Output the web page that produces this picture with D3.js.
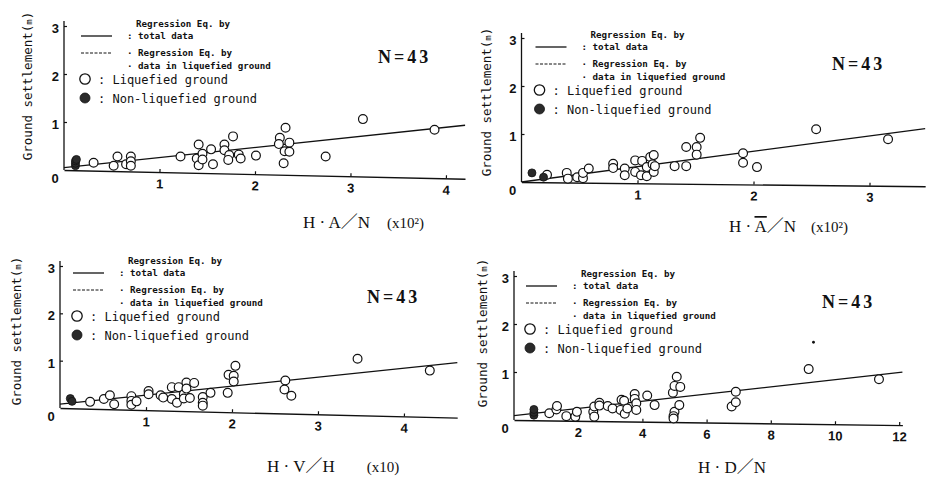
<!DOCTYPE html>
<html>
<head>
<meta charset="utf-8">
<script src="https://cdn.jsdelivr.net/npm/d3@7"></script>
<style>
  body { margin: 0; background: #fff; }
  svg { display: block; }
  text { fill: #111; }
</style>
</head>
<body>
<div id="chart"></div>
<script>
// Data ([x, settlement in m])
const liquefiedA = [[0.31,0.15],[0.52,0.09],[0.56,0.28],[0.65,0.12],[0.70,0.28],[0.70,0.18],[0.70,0.09],[1.22,0.28],[1.41,0.53],[1.39,0.24],[1.41,0.10],[1.45,0.34],[1.45,0.22],[1.54,0.43],[1.56,0.12],[1.68,0.53],[1.68,0.41],[1.77,0.70],[1.73,0.31],[1.72,0.21],[1.83,0.32],[1.85,0.24],[2.01,0.30],[2.26,0.67],[2.25,0.54],[2.32,0.88],[2.36,0.57],[2.31,0.39],[2.36,0.38],[2.30,0.14],[2.74,0.28],[3.13,1.06],[3.88,0.84]];
const nonLiquefiedA = [[0.12,0.09],[0.12,0.14],[0.12,0.19],[0.13,0.22]];

const liquefiedAbar = [[0.22,0.15],[0.39,0.19],[0.40,0.07],[0.48,0.10],[0.53,0.08],[0.53,0.19],[0.58,0.28],[0.79,0.38],[0.79,0.29],[0.89,0.28],[0.89,0.14],[0.98,0.45],[0.98,0.21],[1.04,0.44],[1.03,0.14],[1.08,0.31],[1.08,0.12],[1.11,0.52],[1.14,0.56],[1.13,0.37],[1.14,0.21],[1.15,0.33],[1.32,0.33],[1.42,0.73],[1.42,0.33],[1.51,0.73],[1.51,0.57],[1.54,0.92],[1.91,0.60],[1.91,0.40],[2.03,0.31],[2.54,1.10],[3.16,0.89]];
const nonLiquefiedAbar = [[0.09,0.19],[0.19,0.10]];

const liquefiedV = [[0.35,0.13],[0.51,0.19],[0.58,0.27],[0.63,0.08],[0.83,0.25],[0.83,0.15],[0.83,0.07],[0.89,0.14],[1.03,0.36],[1.03,0.29],[1.17,0.27],[1.20,0.22],[1.30,0.44],[1.30,0.19],[1.36,0.11],[1.38,0.44],[1.44,0.29],[1.44,0.20],[1.47,0.54],[1.47,0.41],[1.51,0.21],[1.56,0.53],[1.66,0.23],[1.66,0.11],[1.66,0.05],[1.75,0.32],[1.95,0.32],[1.96,0.70],[2.02,0.68],[2.02,0.56],[2.04,0.89],[2.62,0.58],[2.61,0.39],[2.69,0.26],[3.46,1.04],[4.30,0.79]];
const nonLiquefiedV = [[0.12,0.20],[0.14,0.14]];

const liquefiedD = [[1.10,0.14],[1.32,0.22],[1.34,0.29],[1.63,0.08],[1.91,0.07],[1.96,0.17],[2.47,0.17],[2.50,0.07],[2.50,0.28],[2.66,0.36],[2.66,0.30],[2.92,0.29],[3.07,0.24],[3.32,0.21],[3.35,0.42],[3.43,0.40],[3.45,0.13],[3.53,0.24],[3.76,0.54],[3.76,0.44],[3.81,0.35],[3.81,0.21],[4.15,0.51],[4.38,0.31],[4.95,0.57],[5.00,0.71],[5.07,0.90],[5.00,0.17],[4.97,0.08],[4.97,0.03],[5.18,0.69],[5.15,0.31],[6.78,0.28],[6.91,0.37],[6.91,0.59],[9.18,1.06],[11.37,0.85]];
const nonLiquefiedD = [[0.62,0.10],[0.62,0.16],[0.62,0.22]];
const specksD = [[9.33,1.62]];

// regression lines (intercept, slope) for the total data
const regIntercept = [0.05, 0.0, 0.08, 0.09];
const regSlope = [0.21, 0.32, 0.19, 0.075];

const xMaxes = [4.2, 3.48, 4.62, 12.1];
const xTicksA = [1, 2, 3, 4];
const xTicksAbar = [1, 2, 3];
const xTicksV = [1, 2, 3, 4];
const xTicksD = [2, 4, 6, 8, 10, 12];
const yTicks = [1, 2, 3];

const xLabels = [
  {main: ["H · A／N"], unit: "(x10²)"},
  {main: ["H · ", "A", "／N"], unit: "(x10²)"},
  {main: ["H · V／H"], unit: "(x10)"},
  {main: ["H · D／N"], unit: ""}
];
const nLabel = "N=43";

// layout of each scanned panel
const panels = [
  {liq: liquefiedA, non: nonLiquefiedA, specks: [], ticks: xTicksA, i: 0,
   ox: 64, oy: 170, xUnit: 95.5, y3: 26, tilt: 1.25,
   lx: 0, ly: 0, nx: 378, ny: 63, labX: 303, labY: 228, unitDx: 17, ylx: 32, yly: 86},
  {liq: liquefiedAbar, non: nonLiquefiedAbar, specks: [], ticks: xTicksAbar, i: 1,
   ox: 521.5, oy: 182, xUnit: 116, y3: 38, tilt: 0.6,
   lx: -3, ly: -1, nx: 832, ny: 70, labX: 729, labY: 232, unitDx: 15, ylx: 491, yly: 102},
  {liq: liquefiedV, non: nonLiquefiedV, specks: [], ticks: xTicksV, i: 2,
   ox: 60, oy: 408, xUnit: 86, y3: 266, tilt: 1.4,
   lx: -4, ly: -3, nx: 367, ny: 303, labX: 267, labY: 472, unitDx: 32, ylx: 21, yly: 331},
  {liq: liquefiedD, non: nonLiquefiedD, specks: specksD, ticks: xTicksD, i: 3,
   ox: 514, oy: 420, xUnit: 32.1, y3: 276, tilt: 0.75,
   lx: -5, ly: 0, nx: 822, ny: 308, labX: 698, labY: 473, unitDx: 15, ylx: 487, yly: 333}
];

const mono = "'DejaVu Sans Mono', 'Liberation Mono', monospace";
const serif = "'Liberation Serif', 'Noto Sans CJK JP', serif";
const ink = "#111";

const svg = d3.select("#chart").append("svg")
    .attr("width", 930)
    .attr("height", 482);

panels.forEach(drawPanel);

function drawPanel(p) {
    const g = svg.append("g");
    const xMax = xMaxes[p.i];
    const x = d3.scaleLinear().domain([0, xMax]).range([p.ox, p.ox + xMax * p.xUnit]);
    const y = d3.scaleLinear().domain([0, 3]).range([p.oy, p.y3]);

    // x axis (the scan is slightly tilted)
    const xAxis = g.append("g")
        .attr("transform", `rotate(${p.tilt},${p.ox},${p.oy}) translate(0,${p.oy})`)
        .call(d3.axisBottom(x).tickValues(p.ticks).tickSizeInner(-3).tickSizeOuter(0)
            .tickPadding(7).tickFormat(d3.format("d")));
    xAxis.select(".domain").attr("stroke", ink).attr("stroke-width", 1.3);
    xAxis.selectAll("line").attr("stroke", ink).attr("stroke-width", 1.2);
    xAxis.selectAll("text").attr("font-family", "'Liberation Sans', Arial, sans-serif")
        .attr("font-size", 13).attr("font-weight", "bold").attr("fill", ink);

    // y axis
    const yAxis = g.append("g")
        .attr("transform", `translate(${p.ox},0)`)
        .call(d3.axisLeft(y).tickValues(yTicks).tickSizeInner(-3).tickSizeOuter(0)
            .tickPadding(5).tickFormat(d3.format("d")));
    yAxis.select(".domain").remove();
    yAxis.selectAll("line").attr("stroke", ink).attr("stroke-width", 1.2);
    yAxis.selectAll("text").attr("font-family", "'Liberation Sans', Arial, sans-serif")
        .attr("font-size", 13).attr("font-weight", "bold").attr("fill", ink)
        .attr("dy", "0.5em");
    g.append("line")
        .attr("x1", x(0)).attr("x2", x(0))
        .attr("y1", y(0)).attr("y2", y(3) - 5)
        .attr("stroke", ink).attr("stroke-width", 1.3);
    g.append("text")
        .attr("x", x(0) - 9).attr("y", y(0) + 8)
        .attr("text-anchor", "middle").attr("dy", "0.35em")
        .attr("font-family", "'Liberation Sans', Arial, sans-serif")
        .attr("font-size", 13).attr("font-weight", "bold")
        .text("0");

    // regression line (total data)
    const a = regIntercept[p.i], b = regSlope[p.i];
    g.append("line")
        .attr("x1", x(0)).attr("y1", y(a))
        .attr("x2", x(xMax)).attr("y2", y(a + b * xMax))
        .attr("stroke", ink).attr("stroke-width", 1.3);

    // points
    g.selectAll("circle.liq")
        .data(p.liq)
        .enter().append("circle")
        .attr("class", "liq")
        .attr("cx", d => x(d[0]))
        .attr("cy", d => y(d[1]))
        .attr("r", 4.4)
        .attr("fill", "#fff")
        .attr("stroke", ink)
        .attr("stroke-width", 1.2);

    g.selectAll("circle.non")
        .data(p.non)
        .enter().append("circle")
        .attr("class", "non")
        .attr("cx", d => x(d[0]))
        .attr("cy", d => y(d[1]))
        .attr("r", 4)
        .attr("fill", "#2a2a2a")
        .attr("stroke", ink)
        .attr("stroke-width", 0.8);

    g.selectAll("circle.speck")
        .data(p.specks)
        .enter().append("circle")
        .attr("class", "speck")
        .attr("cx", d => x(d[0]))
        .attr("cy", d => y(d[1]))
        .attr("r", 1.4)
        .attr("fill", ink);

    // legend
    const lx = x(0) + p.lx, ly = y(3) + p.ly;
    const leg = g.append("g").attr("transform", `translate(${lx},${ly})`);
    leg.append("line").attr("x1", 17).attr("x2", 48).attr("y1", 10).attr("y2", 10)
        .attr("stroke", ink).attr("stroke-width", 1.3);
    leg.append("line").attr("x1", 17).attr("x2", 48).attr("y1", 27).attr("y2", 27)
        .attr("stroke", ink).attr("stroke-width", 1).attr("stroke-dasharray", "3,1.5");

    const small = [
        {t: "Regression Eq. by", x: 72, y: 1},
        {t: ": total data", x: 63, y: 13},
        {t: "· Regression Eq. by", x: 63, y: 30},
        {t: "· data in liquefied ground", x: 63, y: 43}
    ];
    leg.selectAll("text.small")
        .data(small)
        .enter().append("text")
        .attr("class", "small")
        .attr("x", d => d.x).attr("y", d => d.y)
        .attr("font-family", mono)
        .attr("font-size", 9.2)
        .attr("font-weight", "bold")
        .attr("xml:space", "preserve")
        .text(d => d.t);

    leg.append("circle").attr("cx", 21).attr("cy", 53).attr("r", 5.2)
        .attr("fill", "#fff").attr("stroke", ink).attr("stroke-width", 1.3);
    leg.append("circle").attr("cx", 21).attr("cy", 72).attr("r", 5)
        .attr("fill", "#2a2a2a").attr("stroke", ink).attr("stroke-width", 0.8);
    leg.append("text").attr("x", 34).attr("y", 57.5)
        .attr("font-family", mono).attr("font-size", 12)
        .text(": Liquefied ground");
    leg.append("text").attr("x", 34).attr("y", 76.5)
        .attr("font-family", mono).attr("font-size", 12)
        .text(": Non-liquefied ground");

    // N=43
    g.append("text")
        .attr("x", p.nx).attr("y", p.ny)
        .attr("font-family", serif)
        .attr("font-size", 18)
        .attr("font-weight", "bold")
        .attr("letter-spacing", 3)
        .text(nLabel);

    // x label
    const lab = xLabels[p.i];
    const xt = g.append("text")
        .attr("x", p.labX).attr("y", p.labY)
        .attr("font-family", serif)
        .attr("font-size", 17)
        .attr("xml:space", "preserve");
    lab.main.forEach((s, k) => {
        const ts = xt.append("tspan").text(s);
        if (lab.main.length > 1 && k === 1) ts.style("text-decoration", "overline");
    });
    if (lab.unit) {
        xt.append("tspan").attr("dx", p.unitDx).attr("font-size", 15).text(lab.unit);
    }

    // y label
    const yt = g.append("text")
        .attr("transform", `translate(${p.ylx},${p.yly}) rotate(-90)`)
        .attr("text-anchor", "middle")
        .attr("font-family", mono)
        .attr("font-size", 12.5);
    yt.append("tspan").text("Ground settlement(");
    yt.append("tspan").attr("font-size", 9).text("m");
    yt.append("tspan").text(")");
}
</script>
</body>
</html>
